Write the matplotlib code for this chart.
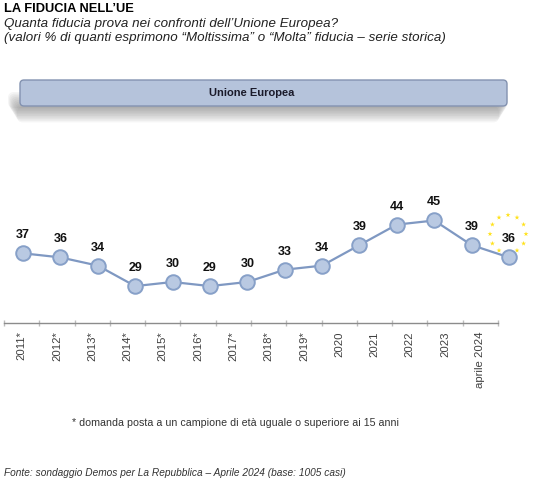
import numpy as np
import matplotlib
matplotlib.use("Agg")
import matplotlib.pyplot as plt
from matplotlib.patches import FancyBboxPatch

plt.rcParams['font.family'] = ['Liberation Sans', 'DejaVu Sans']

# data
years = ['2011*', '2012*', '2013*', '2014*', '2015*', '2016*', '2017*',
         '2018*', '2019*', '2020', '2021', '2022', '2023', 'aprile 2024']
fiducia = [37, 36, 34, 29, 30, 29, 30, 33, 34, 39, 44, 45, 39, 36]

title = "LA FIDUCIA NELL\u2019UE"
subtitle1 = "Quanta fiducia prova nei confronti dell\u2019Unione Europea?"
subtitle2 = ("(valori % di quanti esprimono \u201cMoltissima\u201d o \u201cMolta\u201d "
             "fiducia \u2013 serie storica)")
banner = "Unione Europea"
note = "* domanda posta a un campione di et\u00e0 uguale o superiore ai 15 anni"
source = "Fonte: sondaggio Demos per La Repubblica \u2013 Aprile 2024 (base: 1005 casi)"

W, H = 553, 490
fig = plt.figure(figsize=(W / 100, H / 100), dpi=100)

# overlay in pixel coords for texts and banner
bg = fig.add_axes([0, 0, 1, 1])
bg.set_xlim(0, W)
bg.set_ylim(H, 0)
bg.axis('off')

bg.text(4, 9, title, fontsize=9.3, fontweight='bold', va='center', ha='left')
bg.text(4, 23.5, subtitle1, fontsize=9.6, style='italic', va='center', color='#222222')
bg.text(4, 38, subtitle2, fontsize=9.6, style='italic', va='center', color='#222222')

# banner shadow
for i in range(10):
    sh = FancyBboxPatch((8 + i * 1.0, 92 + i * 1.6), 500 - 2 * i, 16,
                        boxstyle="round,pad=0,rounding_size=6",
                        fc='#444444', ec='none', alpha=0.05)
    bg.add_patch(sh)
bar = FancyBboxPatch((20, 80), 487, 26, boxstyle="round,pad=0,rounding_size=4",
                     fc='#b5c3db', ec='#8392b0', lw=1.0)
bg.add_patch(bar)
bg.text(252, 93, banner, fontsize=8, fontweight='bold', ha='center', va='center',
        color='#1a1a2a')

bg.text(72, 423, note, fontsize=7.65, va='center', ha='left', color='#333333')
bg.text(4, 473, source, fontsize=7.3, style='italic', va='center', ha='left',
        color='#333333')

# category axis (labels and ticks)
bottom = (H - 323) / H
height = (323 - 200) / H
axc = fig.add_axes([4 / W, bottom, 494 / W, height])
x = np.arange(len(years))
axc.set_xlim(-0.5, len(years) - 0.5)
axc.set_ylim(20, 50)
axc.set_facecolor('none')
for s in ['top', 'right', 'left']:
    axc.spines[s].set_visible(False)
axc.spines['bottom'].set_color('#8c8c8c')
axc.spines['bottom'].set_linewidth(1.0)
axc.set_yticks([])
axc.set_xticks(x)
axc.set_xticklabels(years, rotation=90, fontsize=8.2, color='#404040')
axc.tick_params(axis='x', which='major', length=0, pad=6)
axc.set_xticks(np.arange(-0.5, len(years)), minor=True)
axc.tick_params(axis='x', which='minor', length=4, direction='inout',
                color='#bdbdbd', width=1)

# line series
axl = fig.add_axes([(23 - 486 / 26) / W, bottom, (486 / 13 * 14) / W, height])
axl.set_xlim(-0.5, len(years) - 0.5)
axl.set_ylim(20, 50)
axl.axis('off')
axl.plot(x, fiducia, color='#7f98c2', lw=1.6, marker='o', ms=10.5,
         mfc='#b9c9e2', mec='#87a0c8', mew=1.4, zorder=3)
for xi, v in zip(x, fiducia):
    axl.annotate(str(v), (xi, v), xytext=(0, 13), textcoords='offset points',
                 ha='center', va='center', fontsize=9, fontweight='bold',
                 color='#111111', zorder=4)

# EU stars ring around last point
cx, cy = 508, 234
ang = np.linspace(0, 2 * np.pi, 12, endpoint=False)
bg.scatter(cx + 18 * np.cos(ang), cy + 19 * np.sin(ang), marker='*', s=14,
           color='#ffe21a', edgecolors='none', zorder=1)

fig.savefig('out.png', dpi=100)
